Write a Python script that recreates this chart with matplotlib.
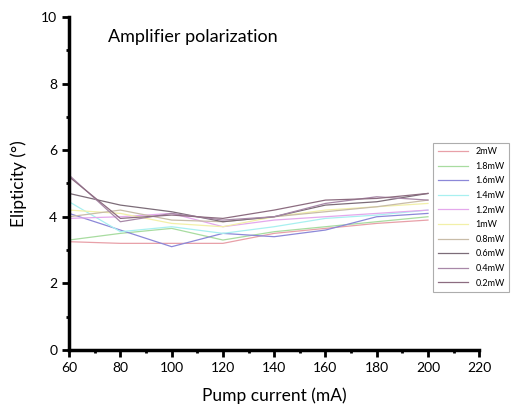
import numpy as np
import matplotlib
matplotlib.use("Agg")
import matplotlib.pyplot as plt
from matplotlib.ticker import MultipleLocator

plt.rcParams['font.family'] = ['Lato', 'DejaVu Sans']

current = [60, 80, 100, 120, 140, 160, 180, 200]

labels = ["2mW", "1.8mW", "1.6mW", "1.4mW", "1.2mW", "1mW",
          "0.8mW", "0.6mW", "0.4mW", "0.2mW"]

p2_0 = [3.25, 3.2, 3.2, 3.2, 3.5, 3.65, 3.8, 3.9]
p1_8 = [3.3, 3.5, 3.65, 3.3, 3.55, 3.7, 3.85, 4.0]
p1_6 = [4.1, 3.6, 3.1, 3.5, 3.4, 3.6, 4.0, 4.1]
p1_4 = [4.45, 3.55, 3.7, 3.5, 3.7, 3.95, 4.05, 4.2]
p1_2 = [3.95, 4.0, 4.1, 3.7, 3.9, 4.0, 4.1, 4.2]
p1_0 = [4.2, 4.1, 3.8, 3.7, 4.0, 4.2, 4.3, 4.4]
p0_8 = [4.0, 4.2, 3.9, 3.85, 4.0, 4.15, 4.3, 4.5]
p0_6 = [4.7, 4.35, 4.15, 3.85, 4.0, 4.35, 4.45, 4.7]
p0_4 = [5.25, 3.85, 4.1, 3.9, 4.0, 4.4, 4.6, 4.5]
p0_2 = [5.2, 3.95, 4.05, 3.95, 4.2, 4.5, 4.55, 4.7]

series = [p2_0, p1_8, p1_6, p1_4, p1_2, p1_0, p0_8, p0_6, p0_4, p0_2]
colors = ["#e8a0a8", "#a8dca0", "#8c88d8", "#a8f0f0", "#e4a8ec",
          "#f2f0a8", "#c8bca8", "#7c6c78", "#a888a8", "#8c6c80"]

fig = plt.figure(figsize=(5.12, 4.16), dpi=100)
ax = fig.add_axes([0.135, 0.159, 0.801, 0.8])

for y, lab, c in zip(series, labels, colors):
    ax.plot(current, y, color=c, lw=0.9, label=lab)

ax.set_xlim(60, 220)
ax.set_ylim(0, 10)
ax.xaxis.set_major_locator(MultipleLocator(20))
ax.xaxis.set_minor_locator(MultipleLocator(10))
ax.yaxis.set_major_locator(MultipleLocator(2))
ax.yaxis.set_minor_locator(MultipleLocator(1))

for s in ["top", "right"]:
    ax.spines[s].set_visible(False)
for s in ["left", "bottom"]:
    ax.spines[s].set_linewidth(2.5)
ax.tick_params(which="major", length=5, width=2, labelsize=10, color="black")
ax.tick_params(which="minor", length=2.5, width=2)

ax.set_xlabel("Pump current (mA)", fontsize=12.5, labelpad=10)
ax.set_ylabel("Elipticity (°)", fontsize=12.5, labelpad=10)
ax.text(0.095, 0.965, "Amplifier polarization", transform=ax.transAxes,
        fontsize=13, va="top", ha="left")

leg = fig.legend(loc="upper left", bbox_to_anchor=(0.837, 0.668), fontsize=6.5,
                 frameon=True, fancybox=False, handlelength=3.4,
                 labelspacing=0.62, borderpad=0.5, handletextpad=0.8)
leg.get_frame().set_edgecolor("#999999")
leg.get_frame().set_linewidth(0.8)

fig.savefig("out.png", dpi=100)
